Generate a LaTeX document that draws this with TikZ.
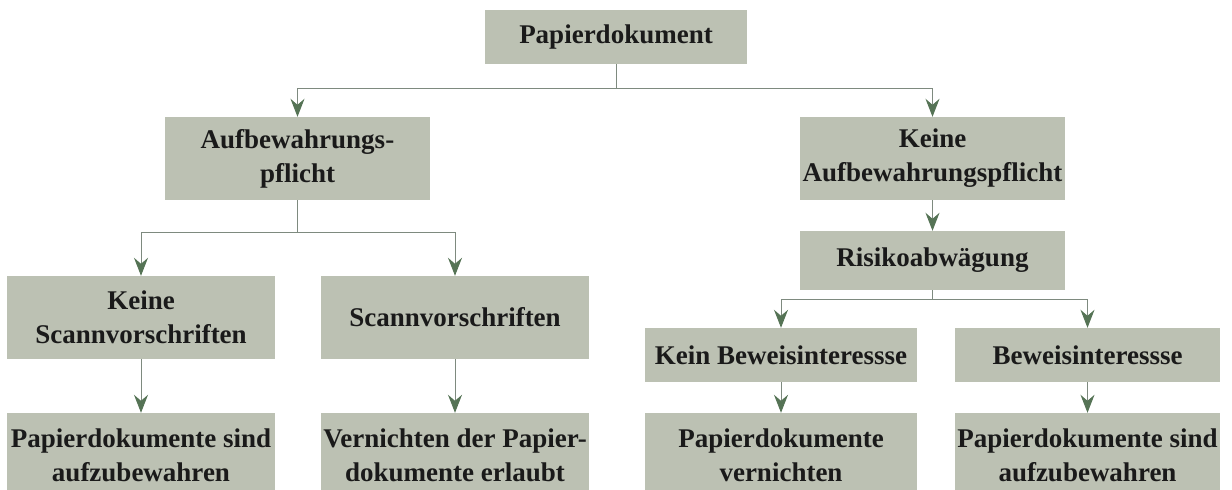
\documentclass[tikz,border=0pt]{standalone}
\usepackage{fontspec}
\setmainfont{Liberation Serif}
\usetikzlibrary{arrows.meta}
\definecolor{boxfill}{HTML}{BCC1B3}
\definecolor{linegray}{HTML}{7E8A7F}
\definecolor{arrowgreen}{HTML}{557355}
\definecolor{textdark}{HTML}{1A1A1A}
\tikzset{
  box/.style={fill=boxfill, draw=none, inner sep=0pt, align=center,
    text=textdark, font=\fontsize{27}{34}\selectfont\bfseries},
  conn/.style={draw=linegray, line width=1pt,
    -{Stealth[length=18pt,width=14pt,inset=6pt,color=arrowgreen]}},
  plain/.style={draw=linegray, line width=1pt}
}
\begin{document}
\begin{tikzpicture}[x=1pt,y=-1pt]
\useasboundingbox (0,0) rectangle (1232,490);
% top
\node[box, minimum width=262pt, minimum height=54pt] (p) at (616,37) {Papierdokument};
% level 2
\node[box, minimum width=265pt, minimum height=83pt] (a) at (297.5,158.5) {Aufbewahrungs-\\pflicht};
\node[box, minimum width=265pt, minimum height=83pt] (k) at (932.5,158.5) {Keine\\Aufbewahrungspflicht};
% right: Risikoabwägung
\node[box, minimum width=265pt, minimum height=59pt] (r) at (932.5,260.5) {Risikoabwägung};
% left level 3
\node[box, minimum width=268pt, minimum height=83pt] (ks) at (141,317.5) {Keine\\Scannvorschriften};
\node[box, minimum width=268pt, minimum height=83pt] (s) at (455,317.5) {Scannvorschriften};
% right level 3
\node[box, minimum width=272pt, minimum height=54pt] (kb) at (781,355) {Kein Beweisinteressse};
\node[box, minimum width=265pt, minimum height=54pt] (b) at (1087.5,355) {Beweisinteressse};
% bottom
\node[box, minimum width=268pt, minimum height=84pt] (ps) at (141,455) {Papierdokumente sind\\aufzubewahren};
\node[box, minimum width=268pt, minimum height=84pt] (v) at (455,455) {Vernichten der Papier-\\dokumente erlaubt};
\node[box, minimum width=272pt, minimum height=84pt] (pv) at (781,455) {Papierdokumente\\vernichten};
\node[box, minimum width=265pt, minimum height=84pt] (pa) at (1087.5,455) {Papierdokumente sind\\aufzubewahren};
% connectors
\draw[plain] (p.south) -- ++(0,24) coordinate (j1);
\draw[conn] (j1) -| (a.north);
\draw[conn] (j1) -| (k.north);
\draw[plain] (a.south) -- ++(0,32) coordinate (j2);
\draw[conn] (j2) -| (ks.north);
\draw[conn] (j2) -| (s.north);
\draw[conn] (k.south) -- (r.north);
\draw[plain] (r.south) -- ++(0,9) coordinate (j3);
\draw[conn] (j3) -| (kb.north);
\draw[conn] (j3) -| (b.north);
\draw[conn] (ks.south) -- (ps.north);
\draw[conn] (s.south) -- (v.north);
\draw[conn] (kb.south) -- (pv.north);
\draw[conn] (b.south) -- (pa.north);
\end{tikzpicture}
\end{document}
